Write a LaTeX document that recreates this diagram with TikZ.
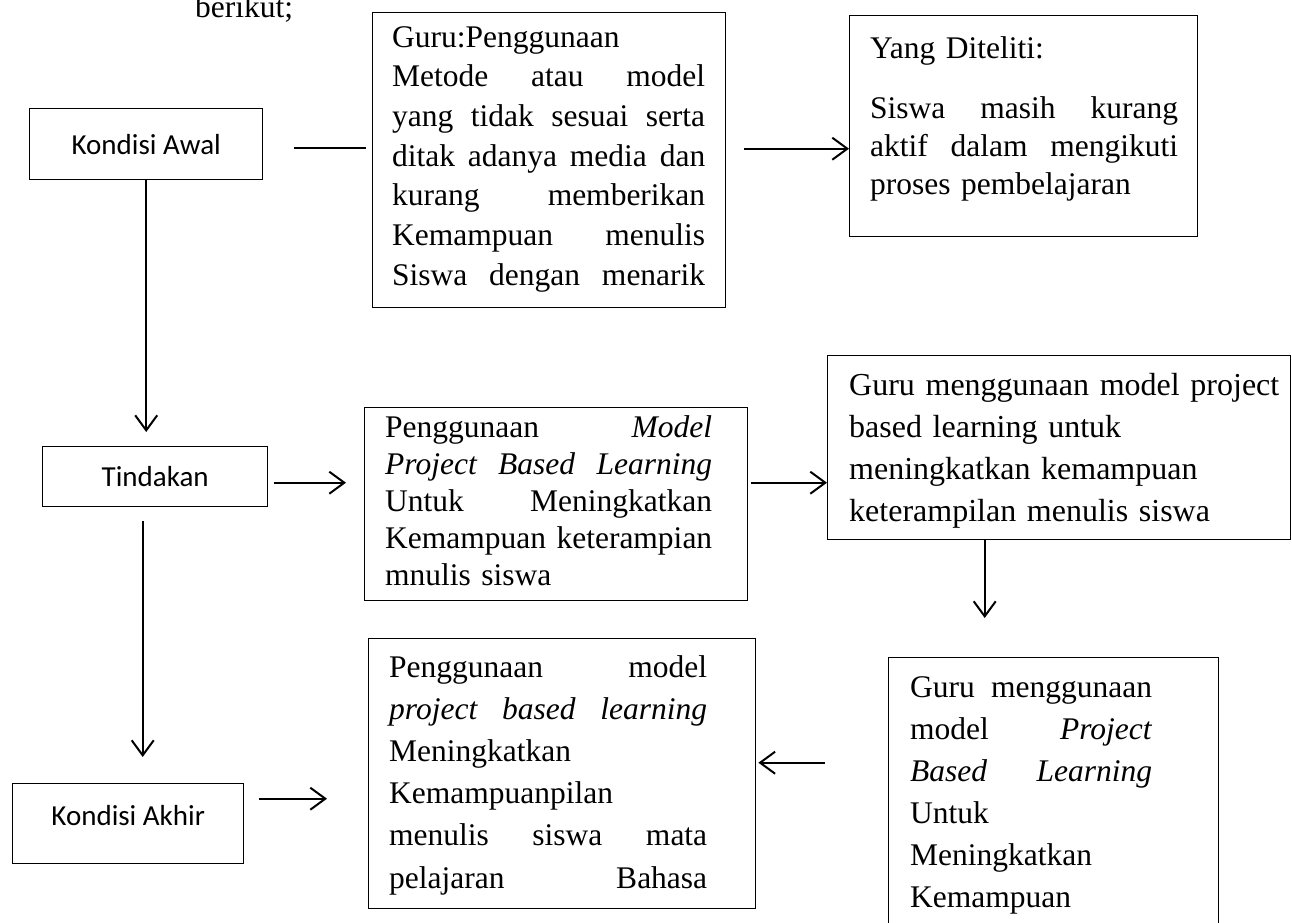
\documentclass[tikz,border=0pt]{standalone}
\usepackage{fontspec}
\setmainfont{Liberation Serif}
\newfontfamily\calib{Carlito}
\usetikzlibrary{arrows.meta,calc}
\newcommand\jl[2]{{\spaceskip=0pt\xspaceskip=0pt\makebox[#1][s]{#2}}}
\begin{document}
\begin{tikzpicture}[x=1pt,y=-1pt,
  frame/.style={draw, line width=1.4pt, inner sep=0pt, anchor=north west},
  lbl/.style={frame, font=\calib\fontsize{29}{34}\selectfont},
  txt/.style={anchor=base west, inner sep=0pt, align=left},
  conn/.style={line width=2pt},
  arr/.style={conn, -{Straight Barb[length=15pt,width=22pt,line width=2pt]}}]
\useasboundingbox (0,0) rectangle (1292,922);
\clip (0,0) rectangle (1292,922);
% boxes
\node[lbl, minimum width=233pt, minimum height=71pt] (A) at (29,108) {Kondisi Awal};
\node[frame, minimum width=353pt, minimum height=295pt] (B) at (372,12) {};
\node[frame, minimum width=348pt, minimum height=221pt] (C) at (849,15) {};
\node[lbl, minimum width=225pt, minimum height=60pt] (T) at (42,446) {Tindakan};
\node[frame, minimum width=383pt, minimum height=193pt] (D) at (364,407) {};
\node[frame, minimum width=463pt, minimum height=184pt] (G) at (827,355) {};
\node[lbl, minimum width=231pt, minimum height=80pt, text depth=16pt] (K) at (12,783) {Kondisi Akhir};
\node[frame, minimum width=387pt, minimum height=270pt] (E) at (368,638) {};
\node[frame, minimum width=330pt, minimum height=320pt] (F) at (888,657) {};
% texts
\node[txt, font=\fontsize{31.5}{38}\selectfont] (title) at (195,17) {berikut;};
\node[txt, text width=313pt, font=\fontsize{31.5}{39.7}\selectfont] (Bt) at (392,47)
 {Guru:Penggunaan\\ \jl{313pt}{Metode atau model}\\ \jl{313pt}{yang tidak sesuai serta}\\ \jl{313pt}{ditak adanya media dan}\\ \jl{313pt}{kurang memberikan}\\ \jl{313pt}{Kemampuan menulis}\\ \jl{313pt}{Siswa dengan menarik}};
\node[txt, text width=308pt, font=\fontsize{31.5}{38}\selectfont] (Ct) at (870,58)
 {Yang Diteliti:\\[22pt] \jl{308pt}{Siswa masih kurang}\\ \jl{308pt}{aktif dalam mengikuti}\\ proses pembelajaran};
\node[txt, text width=327pt, font=\fontsize{31.5}{37}\selectfont] (Dt) at (385,437)
 {\jl{327pt}{Penggunaan \textit{Model}}\\ \jl{327pt}{\textit{Project Based Learning}}\\ \jl{327pt}{Untuk Meningkatkan}\\ \jl{327pt}{Kemampuan keterampian}\\ mnulis siswa};
\node[txt, text width=440pt, font=\fontsize{32}{42.3}\selectfont] (Gt) at (849,395)
 {Guru menggunaan model project\\ based learning untuk\\ meningkatkan kemampuan\\ keterampilan menulis siswa};
\node[txt, text width=318pt, font=\fontsize{31.5}{42.2}\selectfont] (Et) at (389,677)
 {\jl{318pt}{Penggunaan model}\\ \jl{318pt}{\textit{project based learning}}\\ Meningkatkan\\ Kemampuanpilan\\ \jl{318pt}{menulis siswa mata}\\ \jl{318pt}{pelajaran Bahasa}};
\node[txt, text width=242pt, font=\fontsize{31.5}{42}\selectfont] (Ft) at (910,697)
 {\jl{242pt}{Guru menggunaan}\\ \jl{242pt}{model \textit{Project}}\\ \jl{242pt}{\textit{Based Learning}}\\ Untuk\\ Meningkatkan\\ Kemampuan};
% connectors
\draw[conn, shorten <=31pt, shorten >=6pt] ($(A.east)+(0,3.5)$) -- ($(A.east -| B.west)+(0,3.5)$);
\draw[arr, shorten <=18pt] ($(B.east)+(0,-11.5)$) -- ($(B.east -| C.west)+(0,-11.5)$);
\draw[arr, shorten >=14pt] (A.south) -- (A.south |- T.north);
\draw[arr, shorten <=6pt, shorten >=18pt] ($(T.east)+(0,6)$) -- ($(T.east -| D.west)+(0,6)$);
\draw[arr, shorten <=14pt, shorten >=26pt] ($(T.south)+(-12.5,0)$) -- ($(T.south |- K.north)+(-12.5,0)$);
\draw[arr, shorten <=3pt] ($(D.east)+(0,-21.5)$) -- ($(D.east -| G.west)+(0,-21.5)$);
\draw[arr, shorten >=39pt] ($(G.south)+(-74.5,0)$) -- ($(G.south |- F.north)+(-74.5,0)$);
\draw[arr, shorten <=63pt, shorten >=2pt] ($(E.east -| F.west)+(0,-11)$) -- ($(E.east)+(0,-11)$);
\draw[arr, shorten <=15pt, shorten >=41pt] ($(K.east)+(0,-25)$) -- ($(K.east -| E.west)+(0,-25)$);
\end{tikzpicture}
\end{document}
